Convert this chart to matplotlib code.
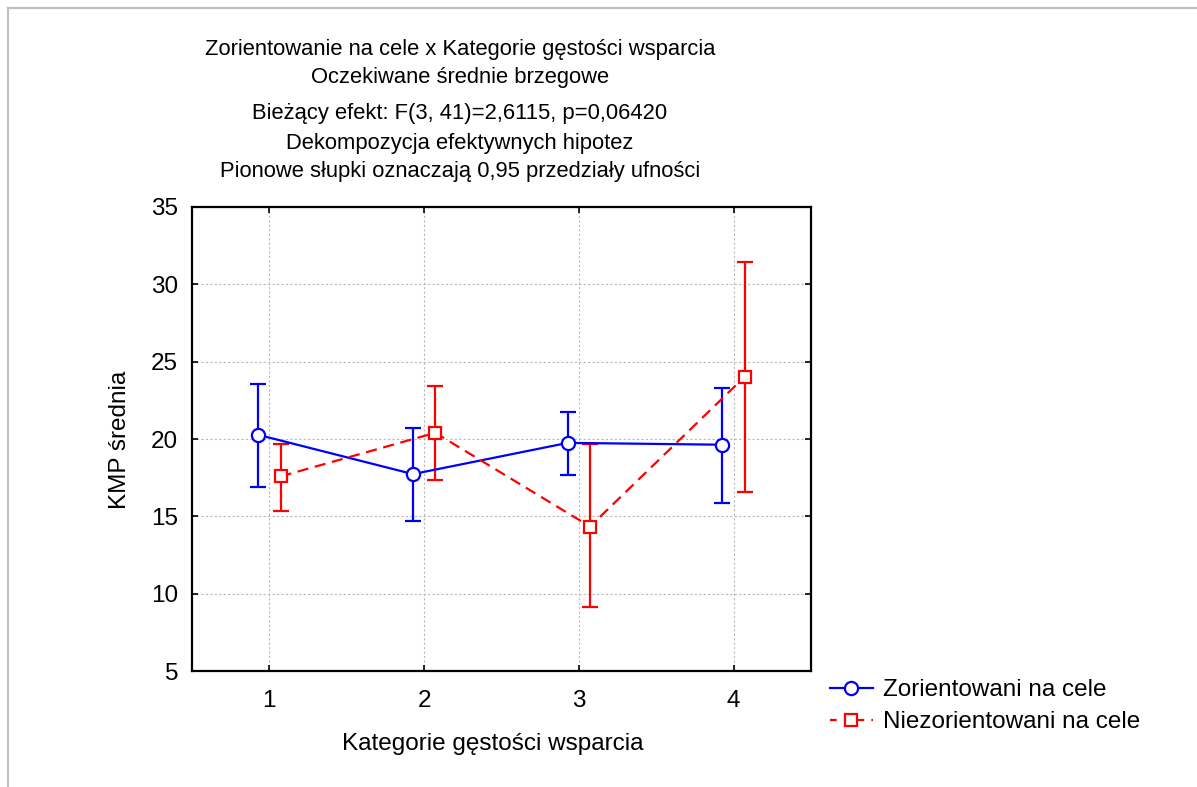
import matplotlib
matplotlib.use("Agg")
import matplotlib.pyplot as plt
import numpy as np
from matplotlib.lines import Line2D

categories = [1, 2, 3, 4]
series_names = ["Zorientowani na cele", "Niezorientowani na cele"]
blue_mean = [20.27, 17.73, 19.75, 19.63]
blue_low = [16.9, 14.68, 17.65, 15.86]
blue_high = [23.54, 20.74, 21.77, 23.28]
red_mean = [17.58, 20.4, 14.34, 24.03]
red_low = [15.37, 17.35, 9.15, 16.57]
red_high = [19.67, 23.41, 19.67, 31.45]
yticks = [5, 10, 15, 20, 25, 30, 35]

title_lines = [
    "Zorientowanie na cele x Kategorie gęstości wsparcia",
    "Oczekiwane średnie brzegowe",
    "Bieżący efekt: F(3, 41)=2,6115, p=0,06420",
    "Dekompozycja efektywnych hipotez",
    "Pionowe słupki oznaczają 0,95 przedziały ufności",
]

plt.rcParams['font.family'] = ['Liberation Sans', 'DejaVu Sans']

W, H = 1197, 787
fig = plt.figure(figsize=(W / 100, H / 100), dpi=100)

# gray frame of screenshot
fig.add_artist(Line2D([8 / W, 8 / W], [0, 1 - 8 / H], color='#c0c0c0', lw=1.6))
fig.add_artist(Line2D([8 / W, 1], [1 - 8 / H, 1 - 8 / H], color='#c0c0c0', lw=1.6))

ax = fig.add_axes([192 / W, 1 - 671 / H, (811 - 192) / W, (671 - 207) / H])

x = np.array(categories, dtype=float)
off = 0.072
bm = np.array(blue_mean); rm = np.array(red_mean)
berr = [bm - np.array(blue_low), np.array(blue_high) - bm]
rerr = [rm - np.array(red_low), np.array(red_high) - rm]

blue = '#0000ff'
red = '#ff0000'
ax.errorbar(x - off, bm, yerr=berr, color=blue, lw=1.6, marker='o', ms=9.5,
            mfc='white', mec=blue, mew=1.6, capsize=6, capthick=1.6,
            elinewidth=1.6, zorder=3)
eb = ax.errorbar(x + off, rm, yerr=rerr, color=red, lw=1.6, marker='s', ms=9,
                 mfc='white', mec=red, mew=1.6, capsize=6, capthick=1.6,
                 elinewidth=1.6, zorder=3)
eb.lines[0].set_dashes([5, 3])

ax.set_xlim(0.5, 4.5)
ax.set_ylim(5, 35)
ax.set_xticks(categories)
ax.set_yticks(yticks)
ax.tick_params(direction='in', length=4, width=1.2, labelsize=17.5, top=True, right=True)
ax.tick_params(axis='x', pad=14)
ax.tick_params(axis='y', pad=10)
ax.grid(True, color='#b8b8b8', lw=0.8, linestyle=(0, (2, 2)))
ax.set_axisbelow(True)
for s in ax.spines.values():
    s.set_linewidth(1.6)

fig.text(120 / W, 1 - 440 / H, "KMP średnia", fontsize=17.5, rotation=90,
         ha='center', va='center')
fig.text(493 / W, 1 - 744 / H, "Kategorie gęstości wsparcia", fontsize=17.5,
         ha='center', va='center')

ys = [50, 78, 114, 144, 172]
for t, yy in zip(title_lines, ys):
    fig.text(460 / W, 1 - yy / H, t, fontsize=15.8, ha='center', va='center')

handles = [
    Line2D([], [], color=blue, lw=1.6, marker='o', ms=9.5, mfc='white', mec=blue, mew=1.6),
    Line2D([], [], color=red, lw=1.6, marker='s', ms=9, mfc='white', mec=red, mew=1.6,
           dashes=[3, 3.2]),
]
leg = ax.legend(handles, series_names, loc='upper left',
                bbox_to_anchor=(830 / W, 1 - 679 / H),
                bbox_transform=fig.transFigure, frameon=False, fontsize=17.5,
                handlelength=1.75, handletextpad=0.45, labelspacing=0.42,
                borderaxespad=0, borderpad=0)

fig.savefig("out.png", dpi=100)
